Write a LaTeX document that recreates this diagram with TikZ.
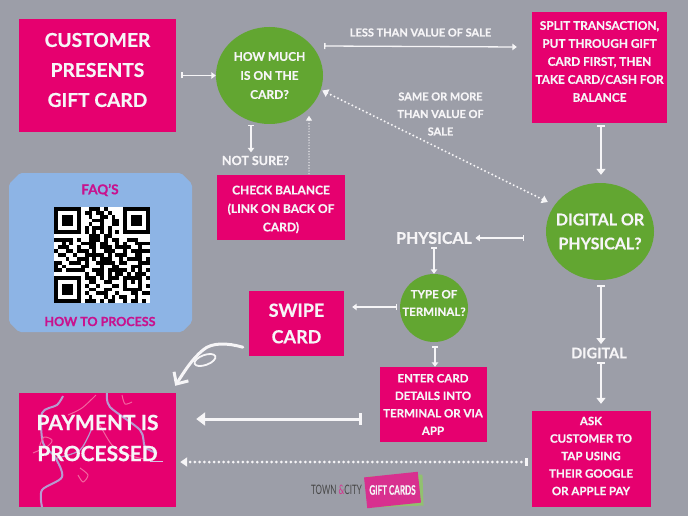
\documentclass[tikz,border=0pt]{standalone}
\usepackage{graphicx}
\usepackage{fontspec}
\setmainfont{Lato}[BoldFeatures={FakeBold=0.5}]
\usepackage{tikz}
\usetikzlibrary{arrows.meta,positioning,shapes.geometric}
\definecolor{bggrey}{HTML}{9C9EA8}
\definecolor{hotpink}{HTML}{E6006F}
\definecolor{leafgreen}{HTML}{62A631}
\definecolor{paleblue}{HTML}{8DB4E5}
\definecolor{faqpink}{HTML}{C8128E}
\definecolor{offwhite}{HTML}{F6F5F7}
\definecolor{lilac}{HTML}{B79AD0}
\definecolor{rosy}{HTML}{F2659F}
\definecolor{cardpink}{HTML}{D8308F}
\definecolor{speck}{HTML}{8A1C78}
\tikzset{
  pinkbox/.style={fill=hotpink,text=offwhite,align=center,inner sep=0pt,font=\fontsize{11.5}{17.5}\selectfont\bfseries},
  greenball/.style={ellipse,fill=leafgreen,inner sep=0pt},
  boxtext/.style={text=offwhite,align=center,inner sep=0pt},
  flowlabel/.style={text=offwhite,align=center,font=\fontsize{11}{17.5}\selectfont\bfseries},
  flowline/.style={draw=offwhite,line width=1.3pt,{Bar[width=6pt,length=1pt]}-{Triangle[width=6.5pt,length=4.5pt]}},
  midline/.style={draw=offwhite,line width=2pt,{Bar[width=8pt,length=1.5pt]}-{Triangle[width=9pt,length=6pt]}},
  fatline/.style={draw=offwhite,line width=3pt,{Bar[width=12pt,length=2pt]}-{Triangle[width=13pt,length=9pt]}},
  dotline/.style={draw=offwhite,line width=2.2pt,dash pattern=on 0pt off 4pt,line cap=round,{Triangle[width=8pt,length=6pt]}-{Triangle[width=8pt,length=6pt]}},
}
\begin{document}
\begin{tikzpicture}[x=1pt,y=-1pt]
\useasboundingbox (0,0) rectangle (688,516);
\fill[bggrey] (0,0) rectangle (688,516);
% boxes
\node[pinkbox,minimum width=157pt,minimum height=113pt] (customer) at (97.5,75.5) {};
\node[boxtext,font=\fontsize{19.2}{30}\selectfont\bfseries] (customertext) at (97.5,70) {CUSTOMER\\PRESENTS\\GIFT CARD};
\node[greenball,minimum width=107pt,minimum height=97pt] (howmuch) at (269.5,75.5) {};
\node[boxtext,font=\fontsize{12}{19}\selectfont\bfseries] (howmuchtext) at (howmuch) {HOW MUCH\\IS ON THE\\CARD?};
\node[pinkbox,minimum width=135pt,minimum height=111pt] (split) at (599.5,67.5) {};
\node[boxtext,font=\fontsize{11.8}{18}\selectfont\bfseries] (splittext) at (599.5,61.5) {SPLIT TRANSACTION,\\PUT THROUGH GIFT\\CARD FIRST, THEN\\TAKE CARD/CASH FOR\\BALANCE};
\node[pinkbox,minimum width=128pt,minimum height=65pt] (check) at (281,207.5) {};
\node[boxtext,font=\fontsize{12}{18.5}\selectfont\bfseries] (checktext) at (281,209.5) {CHECK BALANCE\\(LINK ON BACK OF\\CARD)};
\node[greenball,minimum width=108pt,minimum height=97pt] (digphys) at (600,231.5) {};
\node[boxtext,font=\fontsize{16}{24}\selectfont\bfseries] (digphystext) at (digphys) {DIGITAL OR\\PHYSICAL?};
\node[greenball,minimum width=68pt,minimum height=68pt] (terminal) at (434,308) {};
\node[boxtext,font=\fontsize{11.5}{17.5}\selectfont\bfseries] (terminaltext) at (434,303) {TYPE OF\\TERMINAL?};
\node[pinkbox,minimum width=95pt,minimum height=65pt,font=\fontsize{18}{26.5}\selectfont\bfseries] (swipe) at (296.5,323.5) {SWIPE\\CARD};
\node[pinkbox,minimum width=107pt,minimum height=75pt] (enter) at (433,404.5) {ENTER CARD\\DETAILS INTO\\TERMINAL OR VIA\\APP};
\node[pinkbox,minimum width=119pt,minimum height=96pt] (tap) at (591,459) {};
\node[boxtext,font=\fontsize{11.5}{17.5}\selectfont\bfseries] (taptext) at (591,456) {ASK\\CUSTOMER TO\\TAP USING\\THEIR GOOGLE\\OR APPLE PAY};
\node[fill=hotpink,minimum width=157pt,minimum height=114pt,inner sep=0pt] (payment) at (97.5,450) {};
% confetti
\begin{scope}
\clip (19,393) rectangle (176,507);
\draw[lilac,line width=2pt] plot[smooth] coordinates {(42,507) (42,490) (62,477) (55,457) (43,443) (42,413) (57,405) (63,396)};
\draw[lilac,line width=2pt] plot[smooth] coordinates {(107,393) (110,407) (140,430) (145,447) (157,453)};
\draw[lilac,line width=1.2pt] plot[smooth] coordinates {(92,428) (80,450) (57,458)};
\draw[rosy,line width=1pt] plot[smooth] coordinates {(68,415) (82,408) (96,395)};
\draw[rosy,line width=1pt] plot[smooth] coordinates {(33,453) (48,446) (52,440) (44,437) (40,445)};
\draw[rosy,line width=1pt] plot[smooth] coordinates {(100,425) (112,445) (128,455) (150,460)};
\draw[rosy,line width=1pt] plot[smooth] coordinates {(122,395) (125,404) (132,402)};
\draw[lilac!60!white,line width=.8pt] (150,461) -- (163,461);
\draw[rosy,line width=1pt] plot[smooth] coordinates {(80,468) (88,475) (83,482) (78,475)};
\foreach \px/\py in {78,400,113,398,137,410,150,437,72,440,98,440,117,433,128,468,98,475,113,474,46,470,60,412,90,470}
  \fill[offwhite] (\px,\py) circle (1pt);
\foreach \px/\py in {65,402,79,400,33,433,128,476,45,465,130,435,55,420,105,412}
  \fill[speck] (\px,\py) circle (1pt);
\end{scope}
\node[boxtext,font=\fontsize{21}{31}\selectfont\bfseries] (paytext) at (97.5,438) {PAYMENT IS\\PROCESSED};
% faq panel
\fill[paleblue,rounded corners=2pt] (20,173) -- (181,173) -- (192,184) -- (192,322) -- (182,332) -- (19,332) -- (9,322) -- (9,184) -- cycle;
\node[text=faqpink,font=\fontsize{13.5}{14}\selectfont\bfseries] (faqtop) at (100,190) {FAQ'S};
\node[text=faqpink,font=\fontsize{12.5}{14}\selectfont\bfseries] (faqbot) at (100,321.5) {HOW TO PROCESS};
% qr code
\fill[white] (54,207) rectangle (150,303);
\begin{scope}[shift={(54,207)},x=3.84pt,y=-3.84pt]
\foreach \row/\runs in {
0/{0/7,9/3,13/1,18/7},
1/{0/1,6/1,8/2,11/2,14/1,18/1,24/1},
2/{0/1,2/3,6/1,9/1,12/2,15/1,18/1,20/3,24/1},
3/{0/1,2/3,6/1,10/3,15/2,18/1,20/3,24/1},
4/{0/1,2/3,6/1,9/1,12/1,15/2,18/1,20/3,24/1},
5/{0/1,6/1,8/1,10/3,14/1,18/1,24/1},
6/{0/7,8/1,10/1,12/1,14/1,16/1,18/7},
7/{9/3,13/2},
8/{0/5,6/1,9/3,13/1,15/2,19/3},
9/{2/1,4/1,7/4,12/2,16/1,18/1,21/4},
10/{1/3,6/1,9/2,12/3,16/4,22/1},
11/{0/1,3/2,6/3,10/1,13/3,18/1,20/5},
12/{1/2,5/1,8/5,14/1,16/3,21/2},
13/{3/1,6/3,10/1,12/3,17/1,19/4,24/1},
14/{0/2,4/3,8/1,11/5,17/2,22/3},
15/{0/1,2/1,7/2,12/1,15/2,20/3},
16/{0/2,3/5,10/3,14/5,20/1,22/1,24/1},
17/{8/1,11/2,14/1,16/2,19/1,21/3},
18/{0/7,8/3,12/1,14/3,18/5,24/1},
19/{0/1,6/1,9/2,13/2,18/1,20/1,22/1},
20/{0/1,2/3,6/1,8/1,11/1,15/2,18/1,22/1,24/1},
21/{0/1,2/3,6/1,9/2,13/2,18/5},
22/{0/1,2/3,6/1,8/1,11/3,16/1,20/2,23/2},
23/{0/1,6/1,9/1,13/1,15/1,17/2,21/1},
24/{0/7,8/3,12/1,14/2,18/1,20/2,23/1}} {
  \foreach \start/\len in \runs
    \fill[black] (\start,\row) rectangle ++(\len,1);
}
\end{scope}
% labels
\node[flowlabel] (lesslabel) at (420.5,32.5) {LESS THAN VALUE OF SALE};
\node[flowlabel] (samelabel) at (440.5,114) {SAME OR MORE\\THAN VALUE OF\\SALE};
\node[flowlabel,font=\fontsize{12.5}{17.5}\selectfont\bfseries] (notsure) at (255.5,160.5) {NOT SURE?};
\node[flowlabel,font=\fontsize{16}{18}\selectfont\bfseries] (physical) at (434,238) {PHYSICAL};
\node[flowlabel,font=\fontsize{14.5}{18}\selectfont\bfseries] (digital) at (599,353) {DIGITAL};
% connectors
\draw[flowline,shorten <=5pt] (customer.east) -- (howmuch.west);
\draw[flowline] ([xshift=1pt,yshift=29.5pt]howmuch.east) -- ([xshift=-15pt,yshift=20.5pt]split.west);
\draw[flowline] ([xshift=-18.5pt,yshift=-1pt]howmuch.south) -- ([xshift=-4.5pt]notsure.north);
\draw[midline] ([xshift=1.5pt,yshift=-2pt]split.south) -- ([xshift=1pt,yshift=8pt]digphys.north);
\draw[flowline] ([xshift=-22pt]digphys.west |- physical.east) -- (physical.east);
\draw[flowline] (physical.south) -- (terminal.north);
\draw[flowline] ([xshift=-3pt,yshift=1pt]terminal.west) -- ([xshift=8pt,yshift=16.5pt]swipe.east);
\draw[flowline] ([xshift=1pt,yshift=-4pt]terminal.south) -- ([xshift=2pt]enter.north);
\draw[midline] ([xshift=1pt,yshift=-5pt]digphys.south) -- ([xshift=2pt]digital.north);
\draw[midline] ([xshift=2pt]digital.south) -- ([xshift=10pt,yshift=7pt]tap.north);
\draw[fatline] ([xshift=-17pt,yshift=-14.5pt]enter.west) -- ([xshift=20pt,yshift=31pt]payment.east);
\draw[dotline,line width=1.4pt,dash pattern=on 0pt off 2.8pt,{Bar[width=0pt]}-{Triangle[width=6pt,length=5pt]}] ([xshift=28pt]check.north) -- ([xshift=39.5pt,yshift=8.5pt]howmuch.south);
\draw[dotline] ([xshift=-1pt,yshift=-15pt]howmuch.east) -- ([xshift=2pt,yshift=29.5pt]digphys.west);
\draw[dotline,line width=3pt,dash pattern=on 0pt off 4.8pt,{Bar[width=8pt,length=2pt]}-{Triangle[width=9pt,length=7pt]}] ([xshift=-3pt,yshift=-3pt]tap.west) -- ([xshift=4pt,yshift=-12pt]payment.east);
% curly arrow
\draw[offwhite,line width=3pt,line cap=round,-{Straight Barb[length=9pt,width=17pt]}] ([xshift=-6pt,yshift=9pt]swipe.south west) .. controls (228,343) and (212,342) .. (203,350) .. controls (192,359) and (184,372) .. ([xshift=-1pt,yshift=7pt]payment.north east);
\draw[offwhite,line width=1.8pt,rotate around={20:(205,360)}] (205,360) ellipse (11pt and 5pt);
% logo
\node[font=\fontsize{13}{14}\selectfont] (townname) at (336.5,490) {\scalebox{.62}[1]{\color{black!72}TOWN \color{cardpink}\&\color{black!72} CITY}};
\node[fill=leafgreen!70!white,rotate=2,minimum width=54pt,minimum height=31pt,inner sep=0pt] (cardback) at (396,491) {};
\node[fill=cardpink,rotate=6,minimum width=54pt,minimum height=31pt,inner sep=0pt,text=offwhite,font=\fontsize{13}{14}\selectfont\bfseries] (cardfront) at (392.5,490) {\rotatebox{-6}{\scalebox{.62}[1]{GIFT CARDS}}};
\end{tikzpicture}
\end{document}
